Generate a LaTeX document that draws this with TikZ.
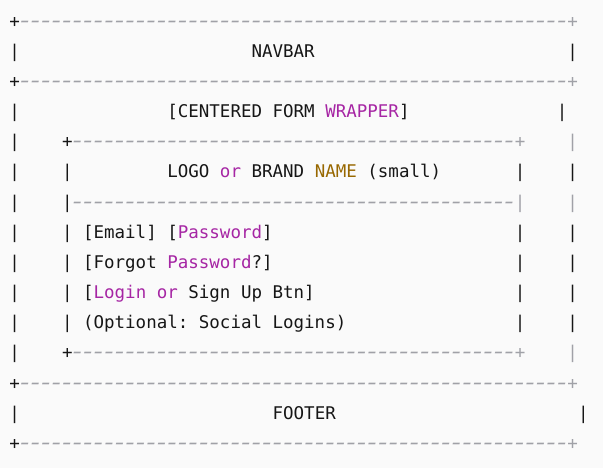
\documentclass[tikz,border=0pt]{standalone}
\usepackage{fontspec}
\usepackage{graphicx}
\setmonofont{DejaVu Sans Mono}
\definecolor{codebg}{HTML}{FAFAFA}
\definecolor{codefg}{HTML}{161616}
\definecolor{kwcol}{HTML}{A626A4}
\definecolor{numcol}{HTML}{986801}
\definecolor{cmtcol}{HTML}{A0A1A7}
\newcommand\kw[1]{\textcolor{kwcol}{#1}}
\newcommand\nm[1]{\textcolor{numcol}{#1}}
\newcommand\cmt[1]{\textcolor{cmtcol}{\itshape #1}}
\newcommand\dashes[1]{\foreach\i in {1,...,#1}{\makebox[0.602em]{\scalebox{1.55}[1.15]{-}}}}
\newcommand\blank[1]{\foreach\i in {1,...,#1}{\ }}
\tikzset{codeline/.style={anchor=base west, inner sep=0pt, text=codefg,
    font=\fontsize{17.49}{20}\selectfont\ttfamily}}
\begin{document}
\begin{tikzpicture}[x=1pt, y=-1pt]
    \fill[codebg] (0,0) rectangle (603,468);
    % navbar
    \node[codeline] (navtop) at (9.2,27.2) {+\cmt{\dashes{52}+}};
    \node[codeline] (navbar) at (9.2,57.35) {|\blank{22}NAVBAR\blank{24}|};
    \node[codeline] (navbot) at (9.2,87.5) {+\cmt{\dashes{52}+}};
    % form wrapper
    \node[codeline] (wrapper) at (9.2,117.65) {|\blank{14}[CENTERED FORM \kw{WRAPPER}]\blank{14}|};
    \node[codeline] (formtop) at (9.2,147.8) {|\blank{4}+\cmt{\dashes{42}+\blank{4}|}};
    \node[codeline] (logo) at (9.2,177.95) {|\blank{4}|\blank{9}LOGO \kw{or} BRAND \nm{NAME} (small)\blank{7}|\blank{4}|};
    \node[codeline] (logorule) at (9.2,208.1) {|\blank{4}|\cmt{\dashes{42}|\blank{4}|}};
    \node[codeline] (email) at (9.2,238.25) {|\blank{4}|\blank{1}[Email] [\kw{Password}]\blank{23}|\blank{4}|};
    \node[codeline] (forgot) at (9.2,268.4) {|\blank{4}|\blank{1}[Forgot \kw{Password}?]\blank{23}|\blank{4}|};
    \node[codeline] (login) at (9.2,298.55) {|\blank{4}|\blank{1}[\kw{Login} \kw{or} Sign Up Btn]\blank{19}|\blank{4}|};
    \node[codeline] (social) at (9.2,328.7) {|\blank{4}|\blank{1}(Optional: Social Logins)\blank{16}|\blank{4}|};
    \node[codeline] (formbot) at (9.2,358.85) {|\blank{4}+\cmt{\dashes{42}+\blank{4}|}};
    % footer
    \node[codeline] (foottop) at (9.2,389.0) {+\cmt{\dashes{52}+}};
    \node[codeline] (footer) at (9.2,419.15) {|\blank{24}FOOTER\blank{23}|};
    \node[codeline] (footbot) at (9.2,449.3) {+\cmt{\dashes{52}+}};
\end{tikzpicture}
\end{document}
